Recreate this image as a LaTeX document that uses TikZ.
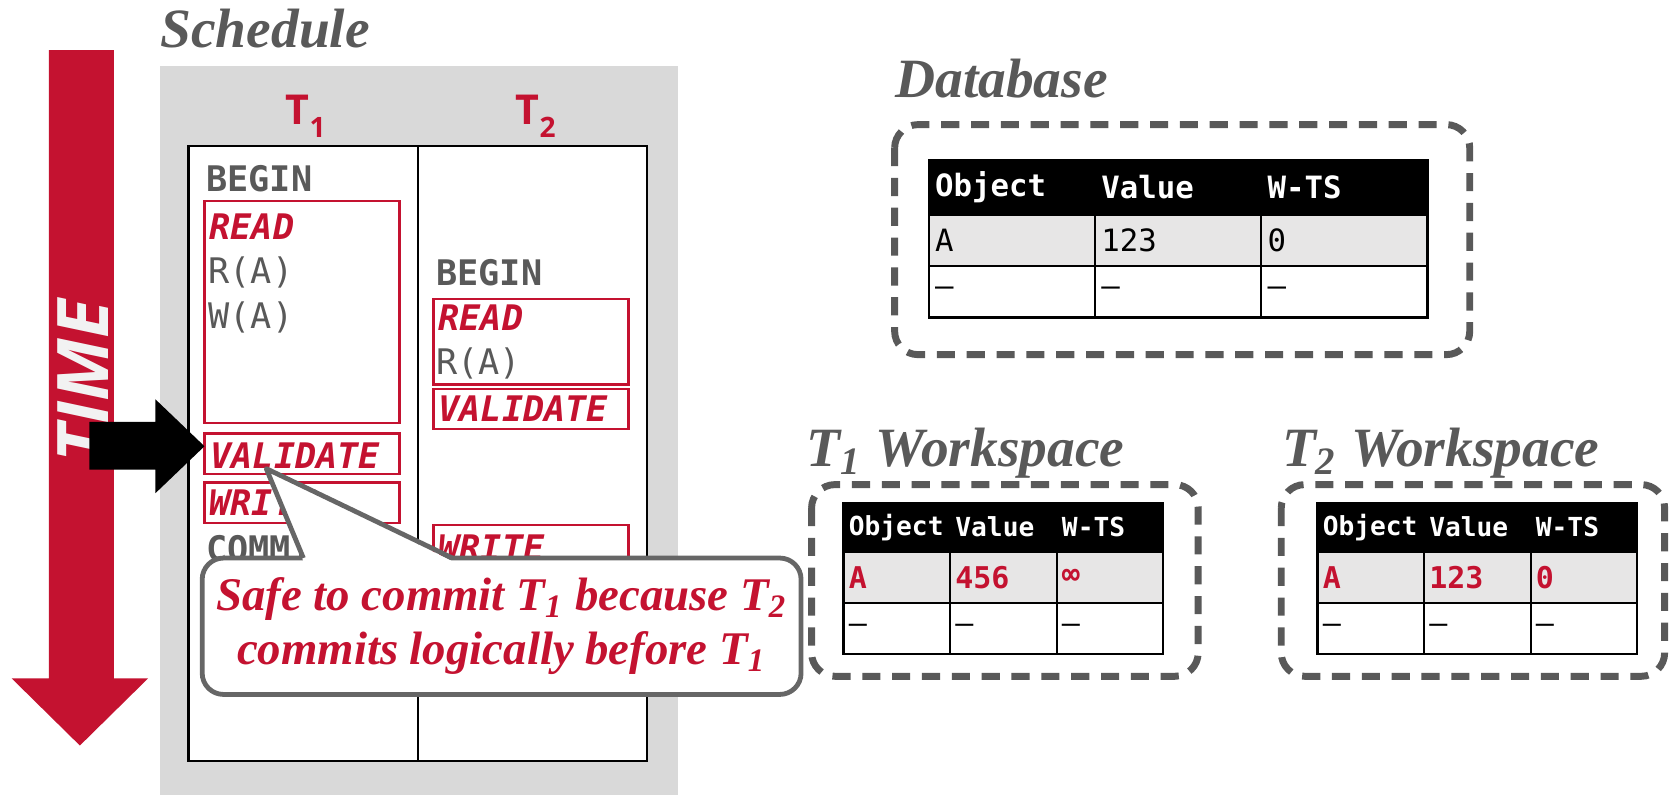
\documentclass[tikz,border=0pt]{standalone}
\usepackage{fontspec}
\setmainfont{Liberation Serif}
\setsansfont{Open Sans}
\setmonofont{DejaVu Sans Mono}
\usetikzlibrary{positioning, calc}

\definecolor{cmured}{HTML}{C41230}
\definecolor{slate}{HTML}{595959}
\definecolor{panel}{HTML}{D9D9D9}
\definecolor{rowgray}{HTML}{E7E6E6}
\definecolor{notegray}{HTML}{666666}
\definecolor{snow}{HTML}{F2F2F2}

\tikzset{
  title/.style={font=\fontsize{14.8}{17}\selectfont\bfseries\itshape, text=slate, inner sep=0pt, anchor=base west},
  txn/.style={font=\fontsize{11}{13}\selectfont\sffamily\bfseries, text=cmured, inner sep=0pt, anchor=base},
  op/.style={font=\fontsize{9.4}{11}\selectfont\ttfamily, text=slate, inner sep=0pt, anchor=west},
  cmd/.style={op, font=\fontsize{9.4}{11}\selectfont\ttfamily\bfseries},
  phase/.style={op, font=\fontsize{9.4}{11}\selectfont\ttfamily\bfseries\itshape, text=cmured},
  phasebox/.style={draw=cmured, line width=0.02cm, inner sep=0pt, outer sep=0pt, anchor=north west, minimum width=1.83cm},
  column/.style={draw=black, fill=white, line width=0.02cm, inner sep=0pt, outer sep=0pt, minimum width=2.15cm, minimum height=5.77cm},
  dashbox/.style={draw=slate, line width=0.065cm, dash pattern=on 0.17cm off 0.11cm, rounded corners=0.22cm},
  cell/.style={draw=black, line width=0.02cm, inner sep=0pt, outer sep=0pt, align=left},
  dbcell/.style={cell, minimum width=1.56cm, text width=1.44cm, minimum height=0.48cm, font=\fontsize{8.2}{10}\selectfont\ttfamily},
  dbhead/.style={dbcell, fill=black, text=white, minimum height=0.52cm, font=\fontsize{8.2}{10}\selectfont\ttfamily\bfseries},
  dbrow/.style={dbcell, fill=rowgray},
  wscell/.style={cell, minimum width=1.0cm, text width=0.9cm, minimum height=0.48cm, font=\fontsize{8}{10}\selectfont\ttfamily},
  wshead/.style={wscell, fill=black, text=white, minimum height=0.46cm, font=\fontsize{7}{9}\selectfont\ttfamily\bfseries},
  wsrow/.style={wscell, fill=rowgray, text=cmured, font=\fontsize{8}{10}\selectfont\ttfamily\bfseries},
  note/.style={draw=notegray, fill=white, line width=0.045cm, rounded corners=0.2cm, inner sep=0pt, outer sep=0pt, minimum width=5.62cm, minimum height=1.28cm, align=center, text=cmured, font=\fontsize{12.5}{14.5}\selectfont\bfseries\itshape},
}

\begin{document}
\begin{tikzpicture}[x=0.01cm, y=-0.01cm, node distance=0pt]
  \useasboundingbox (0,0) rectangle (1568,746);
  \fill[white] (0,0) rectangle (1568,746);

  % schedule
  \fill[panel] (150,62) rectangle (637,746);
  \node[title] (sched) at (150,45) {Schedule};
  \node[column, anchor=north west] (col1) at (177,137) {};
  \node[column, right=of col1] (col2) {};
  \node[txn] (t1) at (287,117) {T\raisebox{-3.4pt}{\fontsize{7.5}{8}\selectfont 1}};
  \node[txn] (t2) at (503,117) {T\raisebox{-3.4pt}{\fontsize{7.5}{8}\selectfont 2}};

  \node[cmd] (t1-begin) at (193,168) {BEGIN};
  \node[phasebox, minimum height=2.08cm] (t1-readbox) at (192,189) {};
  \node[phase] (t1-read) at (196,213) {READ};
  \node[op] (t1-ra) at (195,256) {R(A)};
  \node[op] (t1-wa) at (195,298) {W(A)};
  \node[phasebox, minimum height=0.38cm] (t1-valbox) at (192,407) {};
  \node[phase] (t1-val) at (197,428) {VALIDATE};
  \node[phasebox, minimum height=0.38cm] (t1-wrbox) at (192,453) {};
  \node[phase] (t1-wr) at (196,472) {WRITE};
  \node[cmd] (t1-commit) at (193,515) {COMMIT};

  \node[cmd] (t2-begin) at (409,256) {BEGIN};
  \node[phasebox, minimum height=0.80cm] (t2-readbox) at (407,281) {};
  \node[phase] (t2-read) at (411,298) {READ};
  \node[op] (t2-ra) at (409,341) {R(A)};
  \node[phasebox, minimum height=0.38cm] (t2-valbox) at (407,365) {};
  \node[phase] (t2-val) at (411,384) {VALIDATE};
  \node[phasebox, minimum height=0.42cm] (t2-wrbox) at (407,493) {};
  \node[phase] (t2-wr) at (411,514) {WRITE};

  % time arrow and marker
  \fill[cmured] (46,47) -- (107,47) -- (107,637) -- (139,637) -- (75,700) -- (11,637) -- (46,637) -- cycle;
  \node[rotate=90, text=snow, font=\fontsize{19}{21}\selectfont\sffamily\bfseries\itshape] (time) at (78,358) {TIME};
  \fill[black] (84,396) -- (146,396) -- (146,375) -- (192,419) -- (146,463) -- (146,441) -- (84,441) -- cycle;

  % callout
  \node[note] (note) at (471,588) {Safe to commit T\textsubscript{1} because T\textsubscript{2}\\commits logically before T\textsubscript{1}};
  \coordinate (tip) at (250,440);
  \fill[white] ($(note.north west)+(95,3)$) -- (tip) -- ($(note.north west)+(235,3)$) -- cycle;
  \draw[notegray, line width=0.045cm, line join=round] ($(note.north west)+(95,0)$) -- (tip) -- ($(note.north west)+(235,0)$);

  % database
  \node[title] (db-title) at (840,92) {Database};
  \draw[dashbox] (840,117) rectangle (1380,333);
  \node[dbhead, anchor=north west] (db-obj) at (872,150) {Object};
  \node[dbhead, right=of db-obj] (db-val) {Value};
  \node[dbhead, right=of db-val] (db-wts) {W-TS};
  \node[dbrow, below=of db-obj] (db-a) {A};
  \node[dbrow, below=of db-val] (db-a-val) {123};
  \node[dbrow, below=of db-wts] (db-a-wts) {0};
  \node[dbcell, below=of db-a] (db-nil) {\textendash};
  \node[dbcell, below=of db-a-val] (db-nil-val) {\textendash};
  \node[dbcell, below=of db-a-wts] (db-nil-wts) {\textendash};

  % T1 workspace
  \node[title] (ws1-title) at (757,438) {T\textsubscript{1} Workspace};
  \draw[dashbox] (762,455) rectangle (1125,635);
  \node[wshead, anchor=north west] (ws1-obj) at (792,472) {Object};
  \node[wshead, right=of ws1-obj] (ws1-val) {Value};
  \node[wshead, right=of ws1-val] (ws1-wts) {W-TS};
  \node[wsrow, below=of ws1-obj] (ws1-a) {A};
  \node[wsrow, below=of ws1-val] (ws1-a-val) {456};
  \node[wsrow, below=of ws1-wts] (ws1-a-wts) {∞};
  \node[wscell, below=of ws1-a] (ws1-nil) {\textendash};
  \node[wscell, below=of ws1-a-val] (ws1-nil-val) {\textendash};
  \node[wscell, below=of ws1-a-wts] (ws1-nil-wts) {\textendash};

  % T2 workspace
  \node[title] (ws2-title) at (1203,438) {T\textsubscript{2} Workspace};
  \draw[dashbox] (1203,455) rectangle (1563,635);
  \node[wshead, anchor=north west] (ws2-obj) at (1237,472) {Object};
  \node[wshead, right=of ws2-obj] (ws2-val) {Value};
  \node[wshead, right=of ws2-val] (ws2-wts) {W-TS};
  \node[wsrow, below=of ws2-obj] (ws2-a) {A};
  \node[wsrow, below=of ws2-val] (ws2-a-val) {123};
  \node[wsrow, below=of ws2-wts] (ws2-a-wts) {0};
  \node[wscell, below=of ws2-a] (ws2-nil) {\textendash};
  \node[wscell, below=of ws2-a-val] (ws2-nil-val) {\textendash};
  \node[wscell, below=of ws2-a-wts] (ws2-nil-wts) {\textendash};
\end{tikzpicture}
\end{document}
